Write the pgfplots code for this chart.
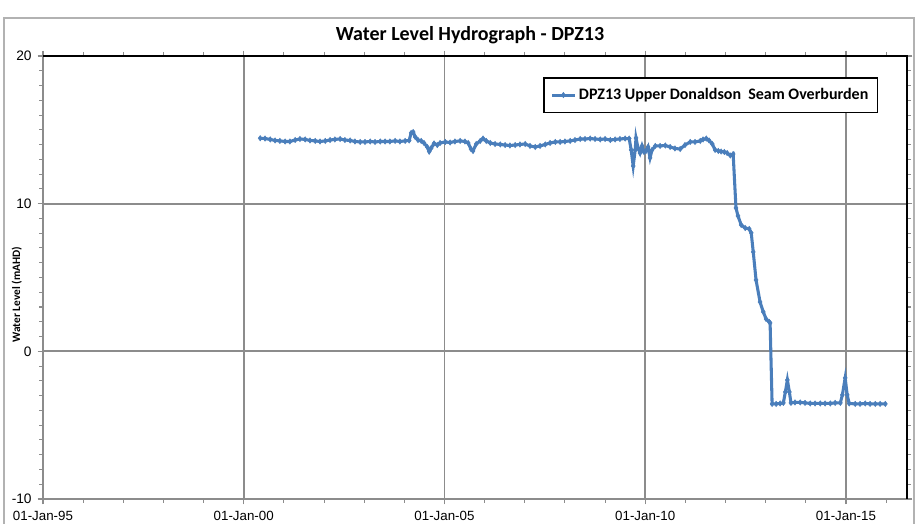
\documentclass[border=0pt]{standalone}
\usepackage{fontspec}
\setmainfont{Carlito}
\newfontfamily\arial{Liberation Sans}
\usepackage{pgfplots}
\pgfplotsset{compat=1.18}
\definecolor{serblue}{HTML}{4A7EBB}
\definecolor{gridgray}{HTML}{8C8C8C}

% DPZ13 water levels, x = decimal year, y = mAHD
\pgfplotstableread{
x y
2000.41 14.43
2000.53 14.41
2000.66 14.35
2000.78 14.28
2000.90 14.25
2001.03 14.21
2001.15 14.21
2001.28 14.31
2001.40 14.38
2001.53 14.35
2001.65 14.28
2001.78 14.25
2001.90 14.21
2002.03 14.25
2002.15 14.31
2002.27 14.35
2002.40 14.38
2002.52 14.31
2002.65 14.28
2002.77 14.21
2002.90 14.18
2003.02 14.18
2003.15 14.21
2003.27 14.18
2003.40 14.21
2003.52 14.21
2003.64 14.21
2003.77 14.25
2003.89 14.21
2004.02 14.25
2004.12 14.28
2004.17 14.79
2004.22 14.85
2004.27 14.52
2004.34 14.31
2004.42 14.25
2004.49 14.11
2004.57 13.84
2004.62 13.53
2004.67 13.77
2004.74 14.08
2004.82 13.97
2004.89 14.11
2005.02 14.18
2005.14 14.14
2005.26 14.21
2005.39 14.25
2005.51 14.21
2005.59 14.11
2005.66 13.70
2005.71 13.57
2005.79 14.04
2005.89 14.25
2005.96 14.41
2006.04 14.25
2006.14 14.11
2006.26 14.04
2006.39 14.01
2006.51 13.97
2006.63 13.94
2006.76 13.97
2006.88 14.01
2007.01 14.04
2007.13 13.91
2007.26 13.84
2007.38 13.91
2007.51 14.01
2007.63 14.11
2007.76 14.18
2007.88 14.18
2008.00 14.21
2008.13 14.25
2008.25 14.31
2008.38 14.38
2008.50 14.38
2008.63 14.41
2008.75 14.38
2008.88 14.35
2009.00 14.38
2009.13 14.31
2009.25 14.35
2009.37 14.38
2009.50 14.41
2009.60 14.41
2009.65 13.64
2009.70 12.55
2009.75 13.64
2009.77 14.45
2009.82 13.77
2009.87 13.43
2009.92 13.91
2009.97 13.50
2010.02 13.57
2010.07 13.84
2010.12 13.10
2010.17 13.64
2010.25 13.91
2010.37 13.91
2010.50 13.94
2010.62 13.84
2010.74 13.74
2010.87 13.70
2010.99 13.97
2011.12 14.18
2011.24 14.18
2011.37 14.25
2011.44 14.35
2011.52 14.41
2011.59 14.28
2011.67 14.04
2011.74 13.64
2011.82 13.57
2011.89 13.53
2011.97 13.50
2012.04 13.43
2012.12 13.26
2012.19 13.36
2012.26 9.71
2012.31 9.17
2012.39 8.56
2012.49 8.35
2012.59 8.29
2012.64 8.02
2012.69 6.73
2012.76 4.83
2012.86 3.34
2012.94 2.67
2013.01 2.19
2013.09 1.99
2013.11 1.92
2013.16 -3.56
2013.26 -3.56
2013.36 -3.53
2013.44 -3.49
2013.49 -2.75
2013.54 -1.94
2013.59 -2.75
2013.63 -3.49
2013.73 -3.46
2013.86 -3.46
2013.98 -3.49
2014.11 -3.53
2014.23 -3.53
2014.36 -3.53
2014.48 -3.53
2014.61 -3.53
2014.73 -3.49
2014.86 -3.49
2014.91 -2.95
2014.98 -1.80
2015.03 -2.95
2015.08 -3.53
2015.23 -3.56
2015.35 -3.56
2015.48 -3.53
2015.60 -3.56
2015.73 -3.56
2015.85 -3.56
2015.98 -3.56
}\dpztable

\begin{document}
\begin{tikzpicture}
\useasboundingbox (0,0) rectangle (687.75pt,393pt);
% chart area border
\draw[gray!60, line width=0.8pt] (3pt,-5pt) -- (3pt,379.5pt) -- (685.5pt,379.5pt) -- (685.5pt,-5pt);
\node[font=\bfseries\fontsize{15}{17}\selectfont] at (352.5pt,366.5pt) {Water Level Hydrograph - DPZ13};
\node[font=\bfseries\fontsize{8.5}{10}\selectfont, rotate=90] at (12.5pt,172pt) {Water Level (mAHD)};
\begin{axis}[
  name=ax,
  at={(32.25pt,18.75pt)}, anchor=south west,
  scale only axis, width=648pt, height=332.25pt,
  xmin=1995, xmax=2016.52, ymin=-10, ymax=20,
  xtick={1995,2000,2005,2010,2015},
  xticklabels={01-Jan-95,01-Jan-00,01-Jan-05,01-Jan-10,01-Jan-15},
  minor xtick={1996,1997,1998,1999,2001,2002,2003,2004,2006,2007,2008,2009,2011,2012,2013,2014,2016},
  ytick={-10,0,10,20},
  yticklabels={-10,0,10,20},
  minor ytick={-9,-8,-7,-6,-5,-4,-3,-2,-1,1,2,3,4,5,6,7,8,9,11,12,13,14,15,16,17,18,19},
  tick align=outside,
  major tick length=4pt, minor tick length=3pt,
  every tick/.style={gridgray, line width=0.8pt},
  xticklabel style={font=\arial\fontsize{10}{11}\selectfont, yshift=-1.5pt},
  yticklabel style={font=\arial\fontsize{10.3}{11}\selectfont, xshift=-1pt},
  grid=major, grid style={gridgray, line width=1.4pt},
  axis line style={gridgray, line width=0.8pt},
  legend style={at={(0.5787,0.9526)}, anchor=north west, draw=black, line width=1.2pt,
    font=\bfseries\fontsize{12}{13}\selectfont, inner xsep=5pt, inner ysep=6pt},
  legend cell align=left,
  clip=false,
]
\addplot[serblue, line width=2.3pt, mark=diamond*, mark size=2pt,
  mark options={solid, line width=0.4pt}] table[x=x,y=y] {\dpztable};
\addlegendentry{DPZ13 Upper Donaldson\ \ Seam Overburden}
\end{axis}
\draw[black, line width=1.8pt] (ax.north west) -- (ax.north east) -- (ax.south east);
\end{tikzpicture}
\end{document}
